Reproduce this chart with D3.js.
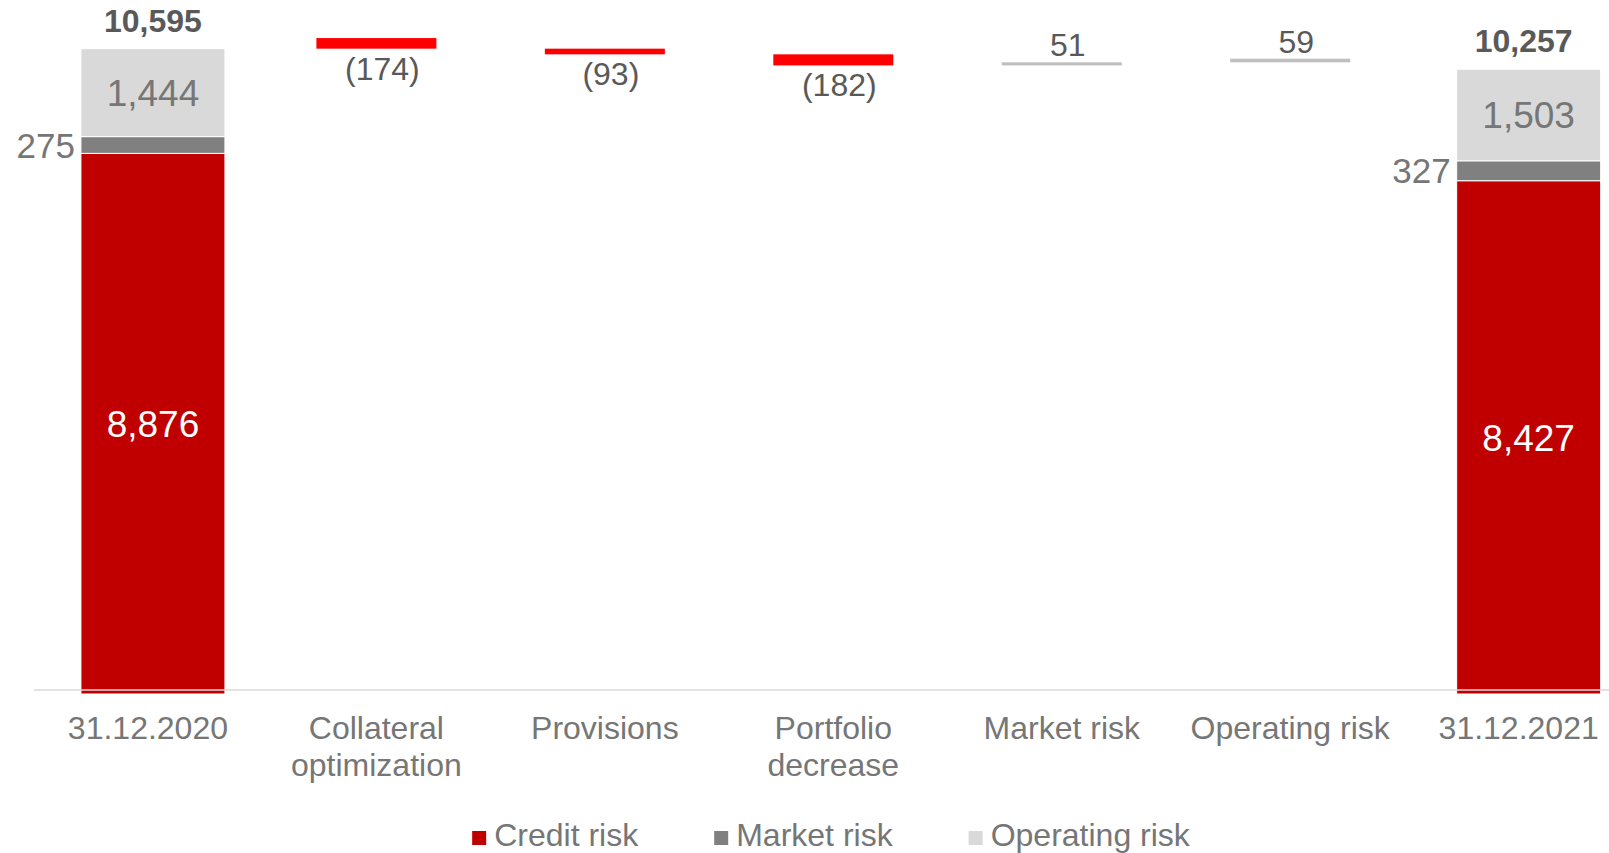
<!DOCTYPE html>
<html>
<head>
<meta charset="utf-8">
<script src="https://cdn.jsdelivr.net/npm/d3@7"></script>
<style>
  html, body { margin: 0; padding: 0; background: #ffffff; }
  svg { display: block; font-family: "Liberation Sans", Arial, sans-serif; }
</style>
</head>
<body>
<svg id="chart" width="1609" height="853"></svg>
<script>
// ---- data ----
const categories = ["31.12.2020", "Collateral optimization", "Provisions", "Portfolio decrease", "Market risk", "Operating risk", "31.12.2021"];
const tickLines = [["31.12.2020"], ["Collateral", "optimization"], ["Provisions"], ["Portfolio", "decrease"], ["Market risk"], ["Operating risk"], ["31.12.2021"]];

const totalCategories = ["31.12.2020", "31.12.2021"];
const creditRisk = [8876, 8427];
const marketRisk = [275, 327];
const operatingRisk = [1444, 1503];
const totals = [10595, 10257];

const stepCategories = ["Collateral optimization", "Provisions", "Portfolio decrease", "Market risk", "Operating risk"];
const stepValues = [-174, -93, -182, 51, 59];
const stepBases = [10595, 10502, 10320, 10320, 10371];
const stepLabels = ["(174)", "(93)", "(182)", "51", "59"];

const legendLabels = ["Credit risk", "Market risk", "Operating risk"];
const seriesColors = ["#c00000", "#808080", "#d9d9d9"];
const stepColors = { neg: "#ff0000", pos: "#bfbfbf" };

// ---- scales ----
const svg = d3.select("#chart");
const x = d3.scaleBand().domain(categories).range([33.7, 1632.9]).paddingInner(0).paddingOuter(0);
const y = d3.scaleLinear().domain([0, 11000]).range([694, 24]);
const center = c => x(c) + x.bandwidth() / 2;
const wideW = 144, wideShift = [5, 10], totalLabelShift = [0, -5], narrowW = 120;
const fmt = d3.format(",");

// ---- total stacked bars ----
const gTot = svg.append("g");
totalCategories.forEach((cat, i) => {
  const cx = center(cat) + wideShift[i];
  const segs = [creditRisk[i], marketRisk[i], operatingRisk[i]];
  let acc = 0;
  segs.forEach((v, s) => {
    gTot.append("rect")
      .attr("x", cx - wideW / 2)
      .attr("width", wideW)
      .attr("y", y(acc + v))
      .attr("height", y(acc) - y(acc + v))
      .attr("fill", seriesColors[s])
      .attr("stroke", "#ffffff")
      .attr("stroke-width", 1);
    acc += v;
  });
  gTot.append("text")
    .attr("x", cx).attr("y", (y(0) + y(creditRisk[i])) / 2)
    .attr("dy", "0.36em")
    .attr("text-anchor", "middle")
    .attr("font-size", 37).attr("fill", "#ffffff")
    .text(fmt(creditRisk[i]));
  gTot.append("text")
    .attr("x", cx - wideW / 2 - 6)
    .attr("y", (y(creditRisk[i]) + y(creditRisk[i] + marketRisk[i])) / 2)
    .attr("dy", "0.36em")
    .attr("text-anchor", "end")
    .attr("font-size", 35).attr("fill", "#767676")
    .text(fmt(marketRisk[i]));
  const opBase = creditRisk[i] + marketRisk[i];
  gTot.append("text")
    .attr("x", cx)
    .attr("y", (y(opBase) + y(opBase + operatingRisk[i])) / 2)
    .attr("dy", "0.36em")
    .attr("text-anchor", "middle")
    .attr("font-size", 37).attr("fill", "#767676")
    .text(fmt(operatingRisk[i]));
  gTot.append("text")
    .attr("x", cx + totalLabelShift[i])
    .attr("y", y(totals[i]) - 17)
    .attr("text-anchor", "middle")
    .attr("font-size", 32).attr("font-weight", "bold").attr("fill", "#595959")
    .text(fmt(totals[i]));
});

// ---- step bars ----
const gStep = svg.append("g");
stepCategories.forEach((cat, i) => {
  const v = stepValues[i], b = stepBases[i];
  const top = y(b + Math.abs(v)), bot = y(b);
  const cx = center(cat);
  gStep.append("rect")
    .attr("x", cx - narrowW / 2)
    .attr("width", narrowW)
    .attr("y", top)
    .attr("height", bot - top)
    .attr("fill", v < 0 ? stepColors.neg : stepColors.pos);
  gStep.append("text")
    .attr("x", cx + 6)
    .attr("y", v < 0 ? bot + 31 : top - 6)
    .attr("text-anchor", "middle")
    .attr("font-size", 32).attr("fill", "#595959")
    .text(stepLabels[i]);
});

// ---- x axis ----
const axisY = y(0) - 4;
const gAx = svg.append("g").attr("transform", `translate(0,${axisY})`)
  .call(d3.axisBottom(x).tickSize(0));
gAx.select(".domain").remove();
gAx.selectAll(".tick text").each(function(d) {
  const t = d3.select(this);
  t.text(null).attr("y", 0).attr("dy", null)
    .attr("font-size", 32).attr("fill", "#767676")
    .attr("font-family", "Liberation Sans, Arial, sans-serif");
  tickLines[categories.indexOf(d)].forEach((line, k) => {
    t.append("tspan").attr("x", 0).attr("y", 49 + k * 37).text(line);
  });
});
svg.append("line")
  .attr("x1", 34).attr("x2", 1609)
  .attr("y1", axisY).attr("y2", axisY)
  .attr("stroke", "#d9d9d9").attr("stroke-width", 1.5);

// ---- legend ----
const gLeg = svg.append("g");
let cursor = 0;
legendLabels.forEach((lab, i) => {
  const g = gLeg.append("g");
  g.append("rect").attr("x", 0).attr("y", -15).attr("width", 14).attr("height", 14).attr("fill", seriesColors[i]);
  const t = g.append("text").attr("x", 22).attr("y", 0)
    .attr("font-size", 32).attr("fill", "#767676").text(lab);
  const w = 22 + t.node().getComputedTextLength();
  g.attr("transform", `translate(${cursor},0)`);
  cursor += w + 76;
});
const legW = cursor - 76;
gLeg.attr("transform", `translate(${831 - legW / 2},846)`);
</script>
</body>
</html>
